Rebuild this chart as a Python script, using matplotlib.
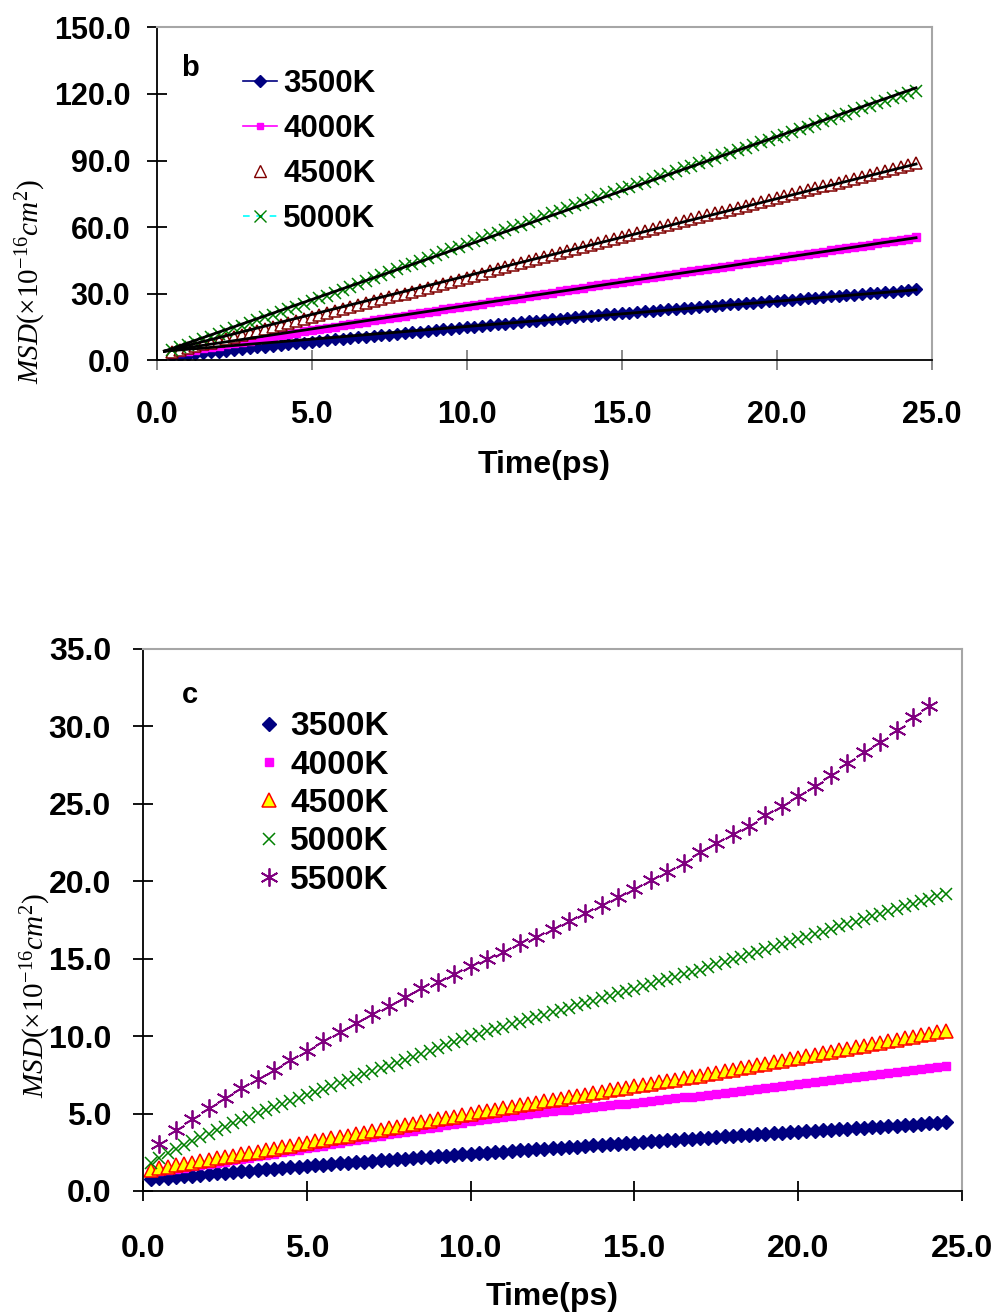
#import libraries
import numpy as np
import matplotlib
matplotlib.use('Agg')
import matplotlib.pyplot as plt
from matplotlib.lines import Line2D

plt.rcParams['font.family'] = ['Liberation Sans', 'DejaVu Sans']
plt.rcParams['mathtext.fontset'] = 'custom'
plt.rcParams['mathtext.rm'] = 'Liberation Serif:normal'
plt.rcParams['mathtext.it'] = 'Liberation Serif:italic:normal'

#----- panel b data (time in ps, MSD in 1e-16 cm^2) -----
time_b = [0.5, 0.75, 1.0, 1.25, 1.5, 1.75, 2.0, 2.25, 2.5, 2.75, 3.0, 3.25, 3.5, 3.75, 4.0, 4.25,
          4.5, 4.75, 5.0, 5.25, 5.5, 5.75, 6.0, 6.25, 6.5, 6.75, 7.0, 7.25, 7.5, 7.75, 8.0, 8.25,
          8.5, 8.75, 9.0, 9.25, 9.5, 9.75, 10.0, 10.25, 10.5, 10.75, 11.0, 11.25, 11.5, 11.75, 12.0,
          12.25, 12.5, 12.75, 13.0, 13.25, 13.5, 13.75, 14.0, 14.25, 14.5, 14.75, 15.0, 15.25, 15.5,
          15.75, 16.0, 16.25, 16.5, 16.75, 17.0, 17.25, 17.5, 17.75, 18.0, 18.25, 18.5, 18.75, 19.0,
          19.25, 19.5, 19.75, 20.0, 20.25, 20.5, 20.75, 21.0, 21.25, 21.5, 21.75, 22.0, 22.25, 22.5,
          22.75, 23.0, 23.25, 23.5, 23.75, 24.0, 24.25, 24.5]

b_3500 = [1.6, 2.0, 2.3, 2.7, 3.1, 3.5, 3.8, 4.2, 4.6, 4.9, 5.3, 5.7, 6.1, 6.4, 6.8, 7.2, 7.6, 7.9, 8.3,
          8.6, 8.9, 9.3, 9.6, 9.9, 10.2, 10.6, 10.9, 11.2, 11.5, 11.9, 12.2, 12.5, 12.8, 13.2, 13.5,
          13.8, 14.1, 14.5, 14.8, 15.1, 15.4, 15.8, 16.1, 16.4, 16.7, 17.1, 17.4, 17.7, 18.0, 18.4,
          18.7, 19.0, 19.3, 19.7, 20.0, 20.3, 20.6, 20.9, 21.1, 21.4, 21.7, 22.0, 22.3, 22.5, 22.8,
          23.1, 23.4, 23.7, 23.9, 24.2, 24.5, 24.8, 25.1, 25.3, 25.6, 25.9, 26.2, 26.5, 26.7, 27.0,
          27.3, 27.6, 27.9, 28.1, 28.4, 28.7, 29.0, 29.3, 29.5, 29.8, 30.1, 30.4, 30.7, 30.9, 31.2,
          31.5, 31.9]
b_4000 = [3.0, 3.6, 4.2, 4.7, 5.3, 5.9, 6.5, 7.1, 7.7, 8.3, 8.8, 9.4, 10.0, 10.6, 11.2, 11.8, 12.3,
          12.9, 13.5, 14.0, 14.6, 15.1, 15.7, 16.2, 16.8, 17.3, 17.9, 18.4, 18.9, 19.5, 20.0, 20.6,
          21.1, 21.7, 22.2, 22.8, 23.3, 23.8, 24.4, 24.9, 25.5, 26.0, 26.6, 27.1, 27.7, 28.2, 28.8,
          29.3, 29.9, 30.4, 31.0, 31.5, 32.1, 32.6, 33.2, 33.7, 34.2, 34.8, 35.3, 35.8, 36.3, 36.9,
          37.4, 37.9, 38.4, 39.0, 39.5, 40.0, 40.5, 41.1, 41.6, 42.1, 42.6, 43.2, 43.7, 44.2, 44.7,
          45.3, 45.8, 46.3, 46.8, 47.4, 47.9, 48.4, 48.9, 49.5, 50.0, 50.5, 51.0, 51.6, 52.1, 52.6,
          53.1, 53.7, 54.2, 54.7, 55.3]
b_4500 = [3.5, 4.4, 5.3, 6.2, 7.1, 7.9, 8.8, 9.7, 10.6, 11.5, 12.4, 13.3, 14.2, 15.1, 16.0, 16.8,
          17.7, 18.6, 19.5, 20.4, 21.3, 22.1, 23.0, 23.9, 24.8, 25.6, 26.5, 27.4, 28.3, 29.2, 30.0,
          30.9, 31.8, 32.7, 33.5, 34.4, 35.3, 36.2, 37.2, 38.1, 39.0, 40.0, 40.9, 41.8, 42.8, 43.7,
          44.6, 45.6, 46.5, 47.4, 48.3, 49.3, 50.2, 51.1, 52.1, 53.0, 53.9, 54.7, 55.6, 56.5, 57.4,
          58.2, 59.1, 60.0, 60.8, 61.7, 62.6, 63.5, 64.3, 65.2, 66.1, 66.9, 67.8, 68.7, 69.6, 70.4,
          71.3, 72.2, 73.0, 73.9, 74.8, 75.7, 76.5, 77.4, 78.3, 79.1, 80.0, 80.9, 81.8, 82.6, 83.5,
          84.4, 85.2, 86.1, 87.0, 87.9, 88.7]
b_5000 = [4.5, 5.7, 6.9, 8.2, 9.4, 10.6, 11.8, 13.1, 14.3, 15.5, 16.7, 17.9, 19.2, 20.4, 21.6, 22.8,
          24.1, 25.3, 26.5, 27.8, 29.1, 30.4, 31.7, 33.0, 34.3, 35.6, 36.9, 38.2, 39.6, 40.9, 42.2,
          43.5, 44.8, 46.1, 47.4, 48.7, 50.0, 51.2, 52.5, 53.7, 54.9, 56.2, 57.4, 58.7, 59.9, 61.1,
          62.4, 63.6, 64.8, 66.1, 67.3, 68.6, 69.8, 71.0, 72.3, 73.5, 74.7, 75.8, 77.0, 78.2, 79.4,
          80.5, 81.7, 82.9, 84.1, 85.2, 86.4, 87.6, 88.8, 89.9, 91.1, 92.3, 93.5, 94.7, 95.8, 97.0,
          98.2, 99.4, 100.5, 101.7, 102.9, 104.1, 105.2, 106.4, 107.6, 108.8, 109.9, 111.1, 112.3,
          113.5, 114.6, 115.8, 117.0, 118.2, 119.3, 120.5, 121.5]

#trend lines in panel b all start from the same point
fit_t0 = 0.25
fit_y0 = 4.0

#----- panel c data -----
time_c = [0.25, 0.5, 0.75, 1.0, 1.25, 1.5, 1.75, 2.0, 2.25, 2.5, 2.75, 3.0, 3.25, 3.5, 3.75, 4.0,
          4.25, 4.5, 4.75, 5.0, 5.25, 5.5, 5.75, 6.0, 6.25, 6.5, 6.75, 7.0, 7.25, 7.5, 7.75, 8.0,
          8.25, 8.5, 8.75, 9.0, 9.25, 9.5, 9.75, 10.0, 10.25, 10.5, 10.75, 11.0, 11.25, 11.5, 11.75,
          12.0, 12.25, 12.5, 12.75, 13.0, 13.25, 13.5, 13.75, 14.0, 14.25, 14.5, 14.75, 15.0, 15.25,
          15.5, 15.75, 16.0, 16.25, 16.5, 16.75, 17.0, 17.25, 17.5, 17.75, 18.0, 18.25, 18.5, 18.75,
          19.0, 19.25, 19.5, 19.75, 20.0, 20.25, 20.5, 20.75, 21.0, 21.25, 21.5, 21.75, 22.0, 22.25,
          22.5, 22.75, 23.0, 23.25, 23.5, 23.75, 24.0, 24.25, 24.5]

c_3500 = [0.78, 0.83, 0.87, 0.92, 0.96, 1.00, 1.05, 1.09, 1.14, 1.18, 1.22, 1.27, 1.31, 1.36, 1.40,
          1.44, 1.49, 1.53, 1.58, 1.62, 1.66, 1.70, 1.74, 1.78, 1.82, 1.86, 1.89, 1.93, 1.97, 2.01,
          2.05, 2.09, 2.13, 2.17, 2.21, 2.24, 2.28, 2.32, 2.36, 2.40, 2.44, 2.47, 2.51, 2.55, 2.58,
          2.62, 2.66, 2.69, 2.73, 2.76, 2.80, 2.84, 2.87, 2.91, 2.95, 2.98, 3.02, 3.05, 3.09, 3.13,
          3.16, 3.20, 3.24, 3.27, 3.31, 3.35, 3.38, 3.42, 3.45, 3.49, 3.52, 3.55, 3.59, 3.62, 3.65,
          3.69, 3.72, 3.76, 3.79, 3.82, 3.86, 3.89, 3.92, 3.96, 3.99, 4.02, 4.06, 4.09, 4.12, 4.16,
          4.19, 4.22, 4.26, 4.29, 4.32, 4.36, 4.39, 4.43]
c_4000 = [1.20, 1.28, 1.35, 1.43, 1.51, 1.59, 1.67, 1.74, 1.82, 1.90, 1.98, 2.07, 2.16, 2.24, 2.33,
          2.41, 2.50, 2.58, 2.67, 2.75, 2.84, 2.93, 3.02, 3.11, 3.20, 3.29, 3.38, 3.47, 3.56, 3.65,
          3.73, 3.82, 3.90, 3.99, 4.07, 4.16, 4.24, 4.33, 4.41, 4.50, 4.56, 4.63, 4.69, 4.76, 4.82,
          4.89, 4.95, 5.02, 5.08, 5.15, 5.20, 5.26, 5.31, 5.37, 5.42, 5.48, 5.53, 5.59, 5.64, 5.70,
          5.76, 5.81, 5.87, 5.93, 5.98, 6.04, 6.09, 6.15, 6.21, 6.28, 6.34, 6.40, 6.46, 6.53, 6.59,
          6.65, 6.71, 6.78, 6.84, 6.90, 6.97, 7.03, 7.10, 7.17, 7.23, 7.30, 7.37, 7.43, 7.50, 7.57,
          7.63, 7.70, 7.77, 7.83, 7.90, 7.97, 8.03, 8.10]
c_4500 = [1.38, 1.47, 1.56, 1.65, 1.74, 1.83, 1.92, 2.01, 2.10, 2.19, 2.28, 2.37, 2.46, 2.55, 2.65,
          2.74, 2.83, 2.92, 3.01, 3.10, 3.20, 3.29, 3.39, 3.48, 3.58, 3.67, 3.77, 3.86, 3.96, 4.05,
          4.15, 4.24, 4.34, 4.43, 4.53, 4.62, 4.72, 4.81, 4.91, 5.00, 5.09, 5.18, 5.26, 5.35, 5.44,
          5.53, 5.61, 5.70, 5.79, 5.88, 5.96, 6.05, 6.14, 6.23, 6.31, 6.40, 6.49, 6.58, 6.66, 6.75,
          6.84, 6.93, 7.01, 7.10, 7.19, 7.28, 7.36, 7.45, 7.55, 7.64, 7.74, 7.84, 7.93, 8.03, 8.13,
          8.22, 8.32, 8.42, 8.51, 8.61, 8.71, 8.80, 8.90, 9.00, 9.09, 9.19, 9.29, 9.38, 9.48, 9.58,
          9.67, 9.77, 9.87, 9.96, 10.06, 10.16, 10.25, 10.35]
c_5000 = [1.80, 2.15, 2.45, 2.72, 2.98, 3.23, 3.47, 3.70, 3.93, 4.15, 4.37, 4.59, 4.80, 5.01, 5.22,
          5.42, 5.62, 5.82, 6.01, 6.20, 6.39, 6.58, 6.77, 6.96, 7.15, 7.34, 7.53, 7.72, 7.91, 8.10,
          8.29, 8.48, 8.67, 8.86, 9.05, 9.24, 9.43, 9.62, 9.81, 10.00, 10.15, 10.31, 10.46, 10.61,
          10.77, 10.92, 11.08, 11.23, 11.38, 11.54, 11.69, 11.84, 12.00, 12.15, 12.30, 12.46, 12.61,
          12.76, 12.92, 13.07, 13.22, 13.38, 13.53, 13.69, 13.84, 13.99, 14.15, 14.30, 14.46, 14.63,
          14.79, 14.95, 15.12, 15.28, 15.44, 15.61, 15.77, 15.93, 16.10, 16.26, 16.42, 16.59, 16.75,
          16.91, 17.08, 17.24, 17.40, 17.57, 17.73, 17.89, 18.06, 18.22, 18.38, 18.55, 18.71, 18.87,
          19.04, 19.20]

time_c5500 = [0.5, 1.0, 1.5, 2.0, 2.5, 3.0, 3.5, 4.0, 4.5, 5.0, 5.5, 6.0, 6.5, 7.0, 7.5, 8.0, 8.5,
              9.0, 9.5, 10.0, 10.5, 11.0, 11.5, 12.0, 12.5, 13.0, 13.5, 14.0, 14.5, 15.0, 15.5, 16.0,
              16.5, 17.0, 17.5, 18.0, 18.5, 19.0, 19.5, 20.0, 20.5, 21.0, 21.5, 22.0, 22.5, 23.0,
              23.5, 24.0]
c_5500 = [3.03, 3.96, 4.65, 5.34, 5.98, 6.63, 7.23, 7.83, 8.46, 9.06, 9.66, 10.28, 10.85, 11.43,
          11.96, 12.50, 13.09, 13.50, 14.00, 14.55, 14.98, 15.45, 15.99, 16.42, 16.91, 17.45, 17.95,
          18.48, 19.00, 19.50, 20.10, 20.57, 21.20, 21.87, 22.45, 23.05, 23.58, 24.27, 24.87, 25.52,
          26.17, 26.88, 27.63, 28.32, 28.97, 29.78, 30.62, 31.33]

labels = ['3500K', '4000K', '4500K', '5000K', '5500K']
navy = '#000080'
magenta = '#FF00FF'
darkred = '#800000'
green = '#008000'
purple = '#800080'

ylab = r'$MSD(\times10^{-16}cm^{2})$'

#Set the figure size
fig = plt.figure(figsize=(9.96, 13.15), dpi=100)


def style_axes(ax):
    for s in ['top', 'right']:
        ax.spines[s].set_color('#A6A6A6')
        ax.spines[s].set_linewidth(1.5)
    for s in ['left', 'bottom']:
        ax.spines[s].set_color('black')
        ax.spines[s].set_linewidth(1.3)
    ax.tick_params(direction='inout', length=14, width=1.3, labelsize=22)
    for lab in ax.get_xticklabels() + ax.get_yticklabels():
        lab.set_fontweight('bold')


#----- panel b -----
ax1 = fig.add_axes([0.1573, 0.7262, 0.778, 0.2529])
tb = np.array(time_b)
ax1.plot(time_b, b_3500, color=navy, marker='D', ms=6.5, ls='none')
ax1.plot(time_b, b_4000, color=magenta, marker='s', ms=5.5, ls='none')
ax1.plot(time_b, b_4500, color=darkred, marker='^', ms=9, mfc='white', mew=1.1, ls='none')
ax1.plot(time_b, b_5000, color=green, marker='x', ms=8, mew=1.1, ls='none')

#linear trend lines forced through the common start point
for vals in [b_3500, b_4000, b_4500, b_5000]:
    y = np.array(vals)
    slope = np.sum((tb - fit_t0) * (y - fit_y0)) / np.sum((tb - fit_t0) ** 2)
    ax1.plot([fit_t0, tb[-1]], [fit_y0, fit_y0 + slope * (tb[-1] - fit_t0)], color='black', lw=2)

ax1.set_xlim(0, 25)
ax1.set_ylim(0, 150)
ax1.set_xticks(np.arange(0, 25.1, 5))
ax1.set_yticks(np.arange(0, 151, 30))
ax1.xaxis.set_major_formatter('{x:.1f}')
ax1.yaxis.set_major_formatter('{x:.1f}')
style_axes(ax1)
ax1.tick_params(axis='x', pad=22, color='#808080')
ax1.tick_params(axis='y', pad=12)
ax1.set_xlabel('Time(ps)', fontsize=23, fontweight='bold', labelpad=14)
ax1.text(0.043, 0.878, 'b', transform=ax1.transAxes, fontsize=21, fontweight='bold',
         ha='center', va='center')

handles_b = [Line2D([], [], color=navy, marker='D', ms=6, lw=1.2),
             Line2D([], [], color=magenta, marker='s', ms=5, lw=1.2),
             Line2D([], [], color=darkred, marker='^', ms=9, mfc='white', ls='none'),
             Line2D([], [], color='cyan', marker='x', ms=9, mec=green, ls='--', dashes=(4, 4), lw=1.2)]
ax1.legend(handles_b, labels[:4], loc='upper left', bbox_to_anchor=(0.111, 0.875),
           frameon=False, prop={'size': 22.5, 'weight': 'bold'}, handlelength=1.1,
           handletextpad=0.2, labelspacing=0.48, borderpad=0, borderaxespad=0)

fig.text(0.031, 0.786, ylab, rotation=90, fontsize=21, ha='center', va='center')

#----- panel c -----
ax2 = fig.add_axes([0.1436, 0.0943, 0.8223, 0.4122])
ax2.plot(time_c, c_3500, color=navy, marker='D', ms=7, ls='none', label=labels[0])
ax2.plot(time_c, c_4000, color=magenta, marker='s', ms=6, ls='none', label=labels[1])
ax2.plot(time_c, c_4500, color='red', marker='^', ms=10, mfc='yellow', mew=1.1, ls='none',
         label=labels[2])
ax2.plot(time_c, c_5000, color=green, marker='x', ms=8, mew=1.1, ls='none', label=labels[3])
ax2.plot(time_c5500, c_5500, color=purple, marker=(6, 2, 0), ms=13, mew=1.3, ls='none',
         label=labels[4])

ax2.set_xlim(0, 25)
ax2.set_ylim(0, 35)
ax2.set_xticks(np.arange(0, 25.1, 5))
ax2.set_yticks(np.arange(0, 35.1, 5))
ax2.xaxis.set_major_formatter('{x:.1f}')
ax2.yaxis.set_major_formatter('{x:.1f}')
style_axes(ax2)
ax2.tick_params(axis='x', pad=24, labelsize=23)
ax2.tick_params(axis='y', pad=16, labelsize=23)
ax2.set_xlabel('Time(ps)', fontsize=23, fontweight='bold', labelpad=13)
ax2.text(0.057, 0.915, 'c', transform=ax2.transAxes, fontsize=21, fontweight='bold',
         ha='center', va='center')
ax2.legend(loc='upper left', bbox_to_anchor=(0.137, 0.885), frameon=False,
           prop={'size': 24, 'weight': 'bold'}, handlelength=0.8, handletextpad=0.25,
           labelspacing=0.22, borderpad=0, borderaxespad=0)

fig.text(0.036, 0.243, ylab, rotation=90, fontsize=21, ha='center', va='center')

plt.savefig('out.png', dpi=100)
